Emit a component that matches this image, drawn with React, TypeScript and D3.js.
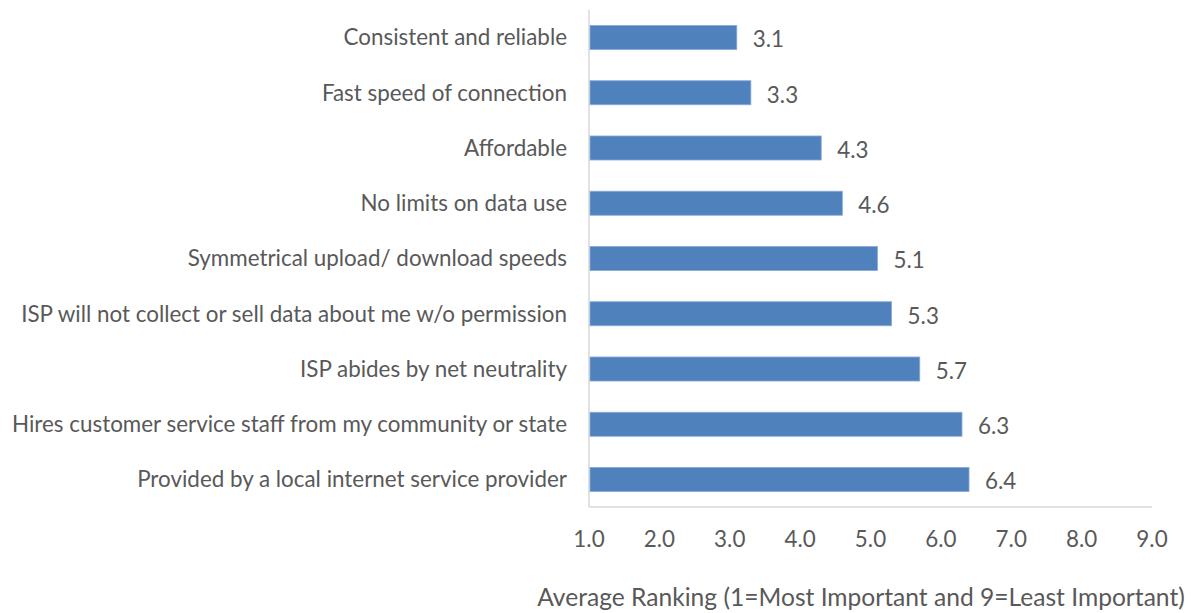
import React from 'react'
import { scaleBand, scaleLinear, range } from 'd3'

const categories = [
  'Consistent and reliable',
  'Fast speed of connection',
  'Affordable',
  'No limits on data use',
  'Symmetrical upload/ download speeds',
  'ISP will not collect or sell data about me w/o permission',
  'ISP abides by net neutrality',
  'Hires customer service staff from my community or state',
  'Provided by a local internet service provider',
]
const values = [3.1, 3.3, 4.3, 4.6, 5.1, 5.3, 5.7, 6.3, 6.4]
const ticks = range(1, 10)
const axisTitle = 'Average Ranking (1=Most Important and 9=Least Important)'

const W = 1194
const H = 613
const FONT = 'Lato, "Open Sans", sans-serif'
const TEXT = '#595959'

const App = () => {
  const x = scaleLinear().domain([1, 9]).range([589, 1152])
  const y = scaleBand().domain(categories).range([10, 507]).paddingInner(0.565).paddingOuter(0.28)

  return (
    <svg width={W} height={H} style={{ position: 'absolute', left: 0, top: 0 }} fontFamily={FONT}>
      <rect width={W} height={H} fill='#fff' />
      {/* axes */}
      <line x1={x(1)} x2={x(1)} y1={10} y2={507} stroke='#d9d9d9' strokeWidth={1.5} />
      <line x1={x(1)} x2={x(9)} y1={507} y2={507} stroke='#d9d9d9' strokeWidth={1.5} />

      {categories.map((c, i) => {
        const yc = (y(c) as number) + y.bandwidth() / 2
        return (
          <g key={c}>
            <rect x={x(1) + 1} y={y(c)} width={x(values[i]) - x(1) - 1} height={y.bandwidth()}
              fill='#4f81bd' stroke='#8aabd6' strokeWidth={0.8} />
            <text x={567} y={yc} dy='0.35em' textAnchor='end' fontSize={22.4} fill={TEXT}>{c}</text>
            <text x={x(values[i]) + 16} y={yc + 2} dy='0.35em' fontSize={22.4} fill={TEXT}>
              {values[i].toFixed(1)}
            </text>
          </g>
        )
      })}

      {ticks.map(t => (
        <text key={t} x={x(t)} y={539} dy='0.35em' textAnchor='middle' fontSize={22.4} fill={TEXT}>
          {t.toFixed(1)}
        </text>
      ))}

      <text x={861} y={597} dy='0.35em' textAnchor='middle' fontSize={24.6} fill={TEXT}>{axisTitle}</text>
    </svg>
  )
}

export default App
